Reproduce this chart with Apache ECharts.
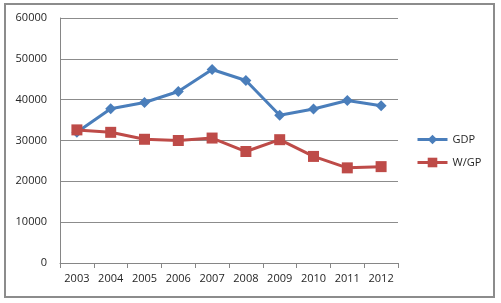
<!DOCTYPE html>
<html><head><meta charset="utf-8">
<script src="https://cdn.jsdelivr.net/npm/echarts@6/dist/echarts.min.js"></script>
<style>html,body{margin:0;padding:0;background:#fff}
#frame{position:absolute;left:4px;top:3px;width:487px;height:291px;border:2px solid #8c8c8c;box-sizing:content-box}
#c{position:absolute;left:0;top:0;width:501px;height:303px}</style>
</head><body><div id="frame"></div><div id="c"></div>
<script>
var years = ['2003','2004','2005','2006','2007','2008','2009','2010','2011','2012'];
var gdp = [32000,37800,39300,42000,47400,44700,36200,37700,39800,38500];
var wgp = [32600,32000,30300,30000,30600,27300,30200,26100,23300,23600];
var yTicks = {min:0, max:60000, interval:10000};
var chart = echarts.init(document.getElementById('c'), null, {renderer:'canvas'});
var font = 'Open Sans';
chart.setOption({
  animation:false,
  grid:{left:60, right:103, top:18, bottom:40, containLabel:false},
  legend:{
    orient:'vertical', left:411, top:129, itemGap:12, itemWidth:30, itemHeight:12,
    lineStyle:{width:3},
    textStyle:{fontFamily:font, fontSize:11, color:'#262626'},
    data:['GDP','W/GP']
  },
  xAxis:{type:'category', data:years, boundaryGap:true,
    axisLine:{lineStyle:{color:'#868686', width:1}},
    axisTick:{show:true, length:5, lineStyle:{color:'#868686'}},
    axisLabel:{fontFamily:font, fontSize:11, color:'#262626', margin:10}},
  yAxis:{type:'value', min:yTicks.min, max:yTicks.max, interval:yTicks.interval,
    axisLine:{show:true, lineStyle:{color:'#868686'}},
    axisTick:{show:false},
    splitLine:{lineStyle:{color:'#8c8c8c', width:1}},
    axisLabel:{fontFamily:font, fontSize:11, color:'#262626', margin:13,
      formatter:function(v){return String(v);}}},
  series:[
    {name:'GDP', type:'line', data:gdp, symbol:'diamond', symbolSize:11,
     lineStyle:{color:'#4A7EBB', width:3}, itemStyle:{color:'#4A7EBB'}},
    {name:'W/GP', type:'line', data:wgp, symbol:'rect', symbolSize:11,
     lineStyle:{color:'#BE4B48', width:3}, itemStyle:{color:'#BE4B48'}}
  ]
});
</script></body></html>
